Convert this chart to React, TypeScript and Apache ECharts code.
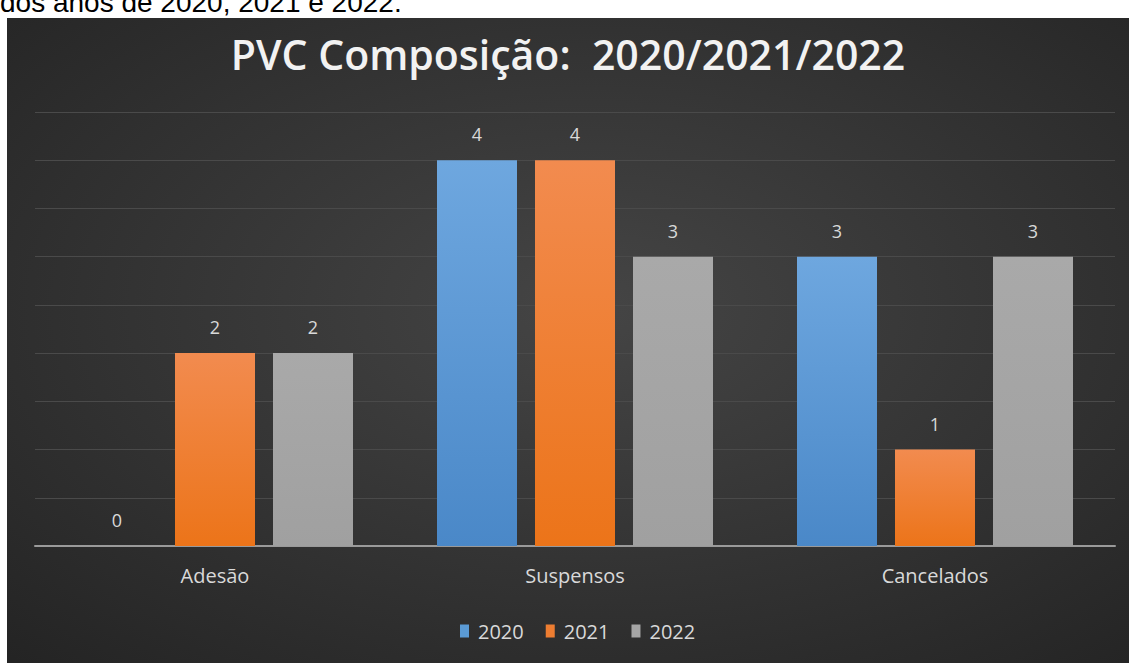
import React, { useEffect, useRef } from "react";
import * as echarts from "echarts";

const categories = ["Adesão", "Suspensos", "Cancelados"];
const seriesNames = ["2020", "2021", "2022"];
const values2020 = [0, 4, 3];
const values2021 = [2, 4, 1];
const values2022 = [2, 3, 3];
const titleText = "PVC Composição:  2020/2021/2022";
const captionText = "dos anos de 2020, 2021 e 2022.";

const grad = (top: string, bottom: string) =>
  new echarts.graphic.LinearGradient(0, 0, 0, 1, [
    { offset: 0, color: top },
    { offset: 1, color: bottom },
  ]);

export default function App() {
  const ref = useRef<HTMLDivElement>(null);
  useEffect(() => {
    if (!ref.current) return;
    const chart = echarts.init(ref.current, undefined, { renderer: "svg" });
    const labelStyle = {
      show: true,
      position: "top" as const,
      distance: 17,
      color: "#d9d9d9",
      fontSize: 18,
      fontFamily: "Open Sans",
    };
    const colors = [
      grad("#6ea7df", "#4a88c8"),
      grad("#f28b4f", "#ec7419"),
      grad("#a9a9a9", "#a0a0a0"),
    ];
    const dataSets = [values2020, values2021, values2022];
    chart.setOption({
      animation: false,
      backgroundColor: {
        type: "radial",
        x: 0.52,
        y: 0.45,
        r: 0.75,
        colorStops: [
          { offset: 0, color: "#454545" },
          { offset: 1, color: "#242424" },
        ],
      },
      title: {
        text: titleText,
        left: "center",
        top: 10,
        textStyle: {
          color: "#f2f2f2",
          fontSize: 41,
          fontWeight: 600,
          fontFamily: "Open Sans",
        },
      },
      legend: {
        data: seriesNames.map((n, i) => ({
          name: n,
          itemStyle: { color: ["#5b9bd5", "#ed7d31", "#a5a5a5"][i] },
        })),
        bottom: 17,
        left: 448,
        icon: "rect",
        itemWidth: 9,
        itemHeight: 13,
        itemGap: 22,
        textStyle: { color: "#d9d9d9", fontSize: 20, fontFamily: "Open Sans", padding: [0, 0, 0, 4] },
      },
      grid: { left: 28, right: 14, top: 94, bottom: 117 },
      xAxis: {
        type: "category",
        data: categories,
        axisLine: { lineStyle: { color: "#9a9a9a", width: 2 } },
        axisTick: { show: false },
        axisLabel: {
          color: "#d9d9d9",
          fontSize: 20,
          fontFamily: "Open Sans",
          margin: 19,
        },
      },
      yAxis: {
        type: "value",
        min: 0,
        max: 4.5,
        interval: 0.5,
        axisLabel: { show: false },
        axisLine: { show: false },
        axisTick: { show: false },
        splitLine: { lineStyle: { color: "#4a4a4a", width: 1 } },
      },
      series: seriesNames.map((n, i) => ({
        name: n,
        type: "bar",
        data: dataSets[i],
        barWidth: 80,
        barGap: "22.5%",
        itemStyle: { color: colors[i] },
        label: labelStyle,
      })),
    });
    return () => chart.dispose();
  }, []);
  return (
    <div style={{ position: "fixed", left: 0, top: 0, width: 1129, height: 663, background: "#fff", overflow: "hidden" }}>
      <div
        style={{
          position: "absolute",
          left: 0,
          top: -13,
          fontFamily: "Liberation Sans, sans-serif",
          fontSize: 28,
          lineHeight: "32px",
          color: "#000",
          whiteSpace: "nowrap",
        }}
      >
        {captionText}
      </div>
      <div ref={ref} style={{ position: "absolute", left: 7, top: 18, width: 1122, height: 645 }} />
    </div>
  );
}
